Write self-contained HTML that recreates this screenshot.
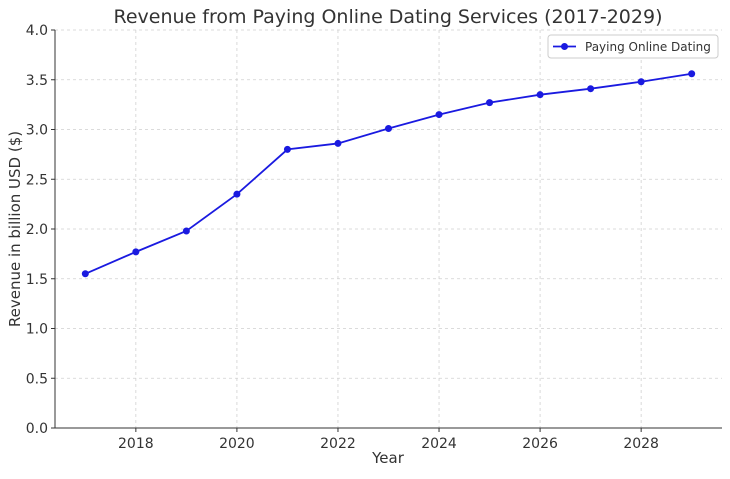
<!DOCTYPE html>
<html><head><meta charset="utf-8"><style>
body{margin:0;background:#fff;font-family:"Liberation Sans","DejaVu Sans",sans-serif;}
svg text{font-family:"DejaVu Sans","Liberation Sans",sans-serif;}
</style></head><body>
<svg id="chart" width="730" height="474" xmlns="http://www.w3.org/2000/svg"></svg>
<script>
const years = [2017,2018,2019,2020,2021,2022,2023,2024,2025,2026,2027,2028,2029];
const revenue = [1.55,1.77,1.98,2.35,2.80,2.86,3.01,3.15,3.27,3.35,3.41,3.48,3.56];
const xTicks = [2018,2020,2022,2024,2026,2028];
const yTicks = [0.0,0.5,1.0,1.5,2.0,2.5,3.0,3.5,4.0];

const svg = document.getElementById('chart');
const NS = 'http://www.w3.org/2000/svg';
const L=55,R=722,T=30,B=428;
const xMin=2016.4,xMax=2029.6,yMin=0,yMax=4;
const xs=v=>L+(v-xMin)/(xMax-xMin)*(R-L);
const ys=v=>B-(v-yMin)/(yMax-yMin)*(B-T);
function mk(tag,attrs,parent){const e=document.createElementNS(NS,tag);for(const k in attrs)e.setAttribute(k,attrs[k]);(parent||svg).appendChild(e);return e;}

const grid=mk('g',{});


xTicks.forEach(t=>{
  const l=mk('line',{x1:xs(t),x2:xs(t),y1:T,y2:B,stroke:'#d0d0d0','stroke-dasharray':'3,3','stroke-width':0.8},grid);
  
  
  const tk=mk('line',{x1:xs(t),x2:xs(t),y1:B,y2:B+4,stroke:'#333'});
  
  
  const tx=mk('text',{x:xs(t),y:B+20,'text-anchor':'middle','font-size':14,fill:'#333'});
  tx.textContent=t;
  
  
});
yTicks.forEach(t=>{
  const l=mk('line',{x1:L,x2:R,y1:ys(t),y2:ys(t),stroke:'#d0d0d0','stroke-dasharray':'3,3','stroke-width':0.8},grid);
  
  
  const tk=mk('line',{x1:L-4,x2:L,y1:ys(t),y2:ys(t),stroke:'#333'});
  
  
  const tx=mk('text',{x:L-7,y:ys(t)+5,'text-anchor':'end','font-size':14,fill:'#333'});
  tx.textContent=t.toFixed(1);
  
  
});
const ax=mk('path',{d:`M${L},${T} V${B} H${R}`,fill:'none',stroke:'#333','stroke-width':1});



const line=mk('polyline',{points:years.map((y,i)=>xs(y)+','+ys(revenue[i])).join(' '),fill:'none',stroke:'#1a1ae0','stroke-width':1.8});


years.forEach((y,i)=>{
  const c=mk('circle',{cx:xs(y),cy:ys(revenue[i]),r:3.5,fill:'#1a1ae0'});
  
  
});

const title=mk('text',{x:388,y:23,'text-anchor':'middle','font-size':19,fill:'#333'});
title.textContent='Revenue from Paying Online Dating Services (2017-2029)';


const xl=mk('text',{x:388,y:463,'text-anchor':'middle','font-size':15,fill:'#333'});
xl.textContent='Year';


const yl=mk('text',{x:0,y:0,'text-anchor':'middle','font-size':15,fill:'#333',transform:`translate(20,${(T+B)/2}) rotate(-90)`});
yl.textContent='Revenue in billion USD ($)';



const lg=mk('g',{});


mk('rect',{x:548,y:35,width:170,height:23,rx:3,fill:'#fff',stroke:'#ccc'},lg);
mk('line',{x1:553,x2:576,y1:46.5,y2:46.5,stroke:'#1a1ae0','stroke-width':1.8},lg);
mk('circle',{cx:564.5,cy:46.5,r:3.5,fill:'#1a1ae0'},lg);
const lt=mk('text',{x:585,y:51,'font-size':12,fill:'#333'},lg);
lt.textContent='Paying Online Dating';


</script>
</body></html>
